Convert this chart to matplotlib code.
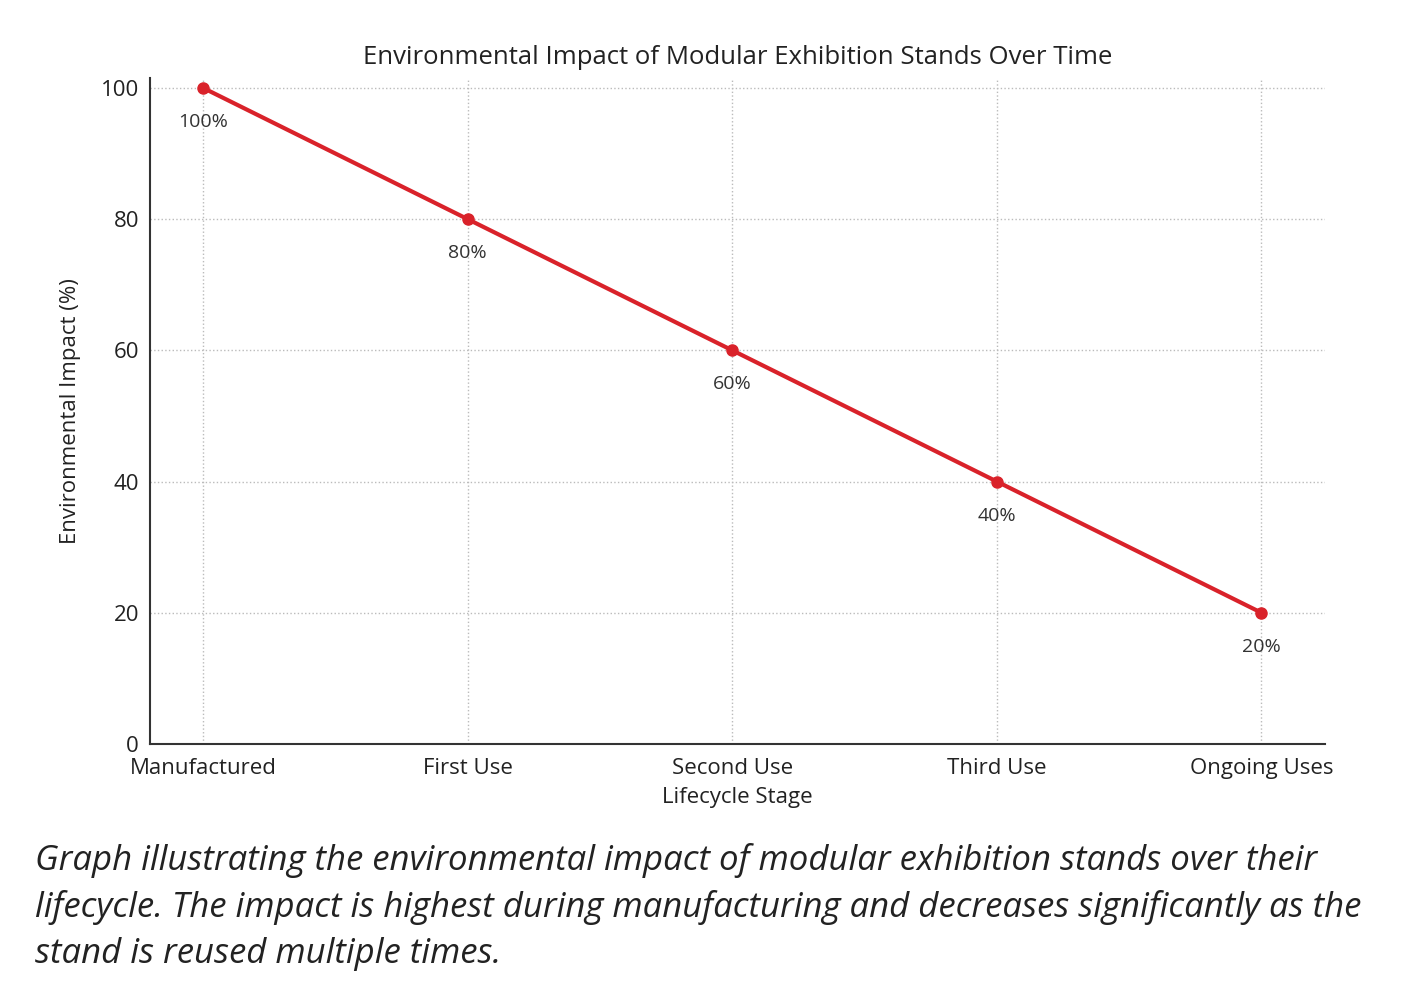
import numpy as np
import matplotlib.pyplot as plt

plt.rcParams['font.family'] = ['Open Sans', 'DejaVu Sans']

stages = ['Manufactured', 'First Use', 'Second Use', 'Third Use', 'Ongoing Uses']
impact = [100, 80, 60, 40, 20]
yticks = [0, 20, 40, 60, 80, 100]

caption = ("Graph illustrating the environmental impact of modular exhibition stands over their\n"
           "lifecycle. The impact is highest during manufacturing and decreases significantly as the\n"
           "stand is reused multiple times.")

red = '#d9222a'

fig = plt.figure(figsize=(14.1, 10.02), dpi=100)
ax = fig.add_axes([150/1410, 1 - 744/1002, (1325-150)/1410, (744-78)/1002])

x = np.arange(len(stages))
ax.plot(x, impact, color=red, linewidth=3, marker='o', markersize=8, zorder=3)
for xi, v in zip(x, impact):
    ax.annotate(f'{v}%', (xi, v), xytext=(0, -18), textcoords='offset points',
                ha='center', va='top', fontsize=14, color='#333333')

ax.set_xlim(-0.2, 4.24)
ax.set_ylim(0, 101.5)
ax.set_xticks(x)
ax.set_xticklabels(stages)
ax.set_yticks(yticks)
ax.tick_params(axis='x', length=0, labelsize=16, colors='#222222', pad=10)
ax.tick_params(axis='y', length=0, labelsize=16, colors='#222222', pad=8)
ax.grid(True, linestyle=':', color='#bbbbbb', linewidth=1)
ax.set_axisbelow(True)
for s in ['top', 'right']:
    ax.spines[s].set_visible(False)
for s in ['left', 'bottom']:
    ax.spines[s].set_color('#333333')
    ax.spines[s].set_linewidth(1.5)

ax.set_xlabel('Lifecycle Stage', fontsize=16, color='#222222', labelpad=6)
ax.set_ylabel('Environmental Impact (%)', fontsize=16, color='#222222', labelpad=14)
ax.set_title('Environmental Impact of Modular Exhibition Stands Over Time',
             fontsize=18.5, color='#222222', pad=10)

fig.text(35/1410, 1 - 843/1002, caption, fontsize=25, style='italic', color='#222222',
         ha='left', va='top', linespacing=1.45)

fig.savefig('out.png', dpi=100)
